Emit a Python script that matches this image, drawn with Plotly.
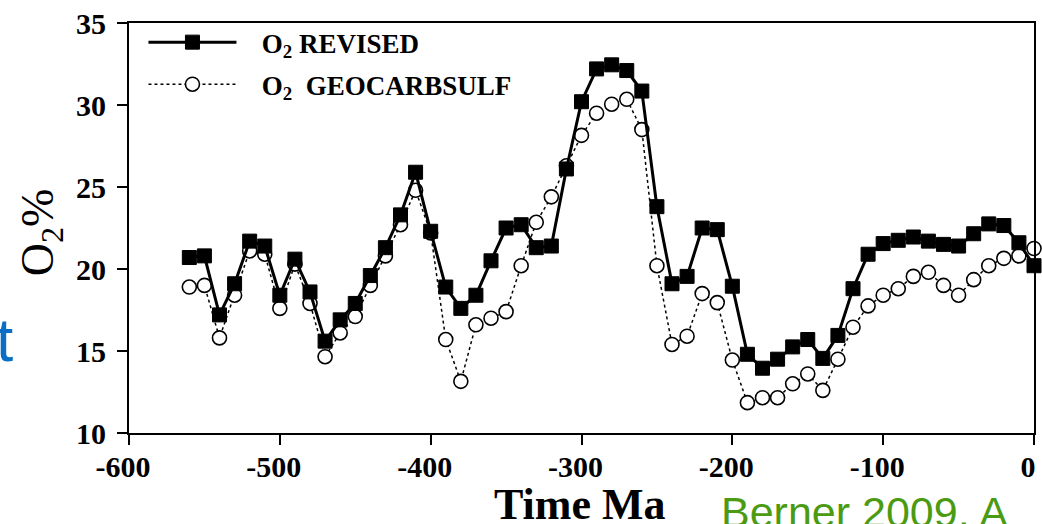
import plotly.graph_objects as go

# ---- data ----
time_ma = [-560, -550, -540, -530, -520, -510, -500, -490, -480, -470,
           -460, -450, -440, -430, -420, -410, -400, -390, -380, -370,
           -360, -350, -340, -330, -320, -310, -300, -290, -280, -270,
           -260, -250, -240, -230, -220, -210, -200, -190, -180, -170,
           -160, -150, -140, -130, -120, -110, -100, -90, -80, -70,
           -60, -50, -40, -30, -20, -10, 0]

o2_revised = [20.7, 20.8, 17.2, 19.1, 21.7, 21.4, 18.4, 20.6, 18.6, 15.6,
              16.9, 17.9, 19.6, 21.3, 23.3, 25.9, 22.3, 18.9, 17.6, 18.4,
              20.5, 22.5, 22.7, 21.3, 21.4, 26.1, 30.2, 32.2, 32.45, 32.1,
              30.85, 23.8, 19.1, 19.55, 22.5, 22.4, 18.95, 14.8, 13.95, 14.5,
              15.25, 15.7, 14.55, 15.95, 18.8, 20.9, 21.55, 21.75, 21.95, 21.7,
              21.5, 21.4, 22.15, 22.75, 22.65, 21.6, 20.2]

o2_geocarbsulf = [18.9, 19.0, 15.8, 18.4, 21.1, 20.9, 17.6, 20.3, 17.9, 14.65,
                  16.1, 17.1, 19.0, 20.8, 22.7, 24.8, 22.2, 15.7, 13.15, 16.6,
                  17.0, 17.4, 20.2, 22.85, 24.4, 26.3, 28.15, 29.5, 30.05, 30.35,
                  28.5, 20.2, 15.4, 15.9, 18.5, 17.95, 14.45, 11.85, 12.15, 12.15,
                  13.0, 13.6, 12.6, 14.5, 16.45, 17.75, 18.4, 18.8, 19.55, 19.8,
                  19.0, 18.4, 19.35, 20.2, 20.65, 20.8, 21.25]

x_ticks = [-600, -500, -400, -300, -200, -100, 0]
y_ticks = [10, 15, 20, 25, 30, 35]

# ---- layout geometry (pixels) ----
W, H = 1042, 524
L, R, T, B = 128.5, 6, 16, 91.3
PW = W - L - R
PH = H - T - B


def px_x(p):
    return (p - L) / PW


def px_y(p):
    return (H - B - p) / PH


serif = "Liberation Serif"
NB = "\u00a0"

fig = go.Figure()

fig.add_trace(go.Scatter(
    x=time_ma, y=o2_geocarbsulf, mode="lines+markers",
    name=NB * 3 + "O<sub>2</sub>" + NB * 2 + "GEOCARBSULF", legendgroup="b",
    legendrank=2,
    line=dict(color="black", width=1.5, dash="dot"),
    marker=dict(symbol="circle", size=14, color="white",
                line=dict(color="black", width=1.6)),
    cliponaxis=False,
))

fig.add_trace(go.Scatter(
    x=time_ma, y=o2_revised, mode="lines+markers",
    name=NB * 3 + "O<sub>2</sub> REVISED", legendgroup="a",
    legendrank=1,
    line=dict(color="black", width=3),
    marker=dict(symbol="square", size=14, color="black",
                line=dict(color="black", width=1)),
    cliponaxis=False,
))

tickfont = dict(family=serif, size=30, color="black", weight="bold")

fig.update_layout(
    width=W, height=H,
    margin=dict(l=L, r=R, t=T, b=B, pad=0),
    paper_bgcolor="white", plot_bgcolor="white",
    showlegend=True,
    legend=dict(
        x=px_x(143), y=px_y(11), xanchor="left", yanchor="top",
        bgcolor="rgba(0,0,0,0)", borderwidth=0,
        font=dict(family=serif, size=27, color="black", weight="bold"),
        itemwidth=88, traceorder="grouped", tracegroupgap=4,
    ),
    xaxis=dict(
        range=[-600, 0], tickmode="array", tickvals=x_ticks,
        ticktext=[str(v) for v in x_ticks],
        showgrid=False, zeroline=False,
        showline=True, linecolor="black", linewidth=2, mirror=True,
        ticks="outside", ticklen=10, tickwidth=2, tickcolor="black",
        tickfont=tickfont, ticklabelstandoff=-4, ticklabelshift=-6,
        ticklabeloverflow="allow",
    ),
    yaxis=dict(
        range=[10, 35], tickmode="array", tickvals=y_ticks,
        ticktext=[str(v) for v in y_ticks],
        showgrid=False, zeroline=False,
        showline=True, linecolor="black", linewidth=2, mirror=True,
        ticks="outside", ticklen=10, tickwidth=2, tickcolor="black",
        tickfont=tickfont, ticklabelstandoff=5,
        ticklabeloverflow="allow",
    ),
    annotations=[
        dict(text="Time Ma", xref="paper", yref="paper",
             x=px_x(581), y=px_y(505), xanchor="center", yanchor="middle",
             showarrow=False,
             font=dict(family=serif, size=44, color="black", weight="bold")),
        dict(text="O<sub>2</sub>%", xref="paper", yref="paper",
             x=px_x(40), y=px_y(229), xanchor="center", yanchor="middle",
             textangle=-90, showarrow=False,
             font=dict(family=serif, size=46, color="black")),
        dict(text="t", xref="paper", yref="paper",
             x=px_x(14), y=px_y(338), xanchor="right", yanchor="middle",
             showarrow=False,
             font=dict(family="Liberation Sans", size=62, color="#0a6fc4")),
        dict(text="Berner 2009, A", xref="paper", yref="paper",
             x=px_x(720), y=px_y(513), xanchor="left", yanchor="middle",
             showarrow=False,
             font=dict(family="Liberation Sans", size=43, color="#4b9b12")),
    ],
)

fig.write_html("out.html")
